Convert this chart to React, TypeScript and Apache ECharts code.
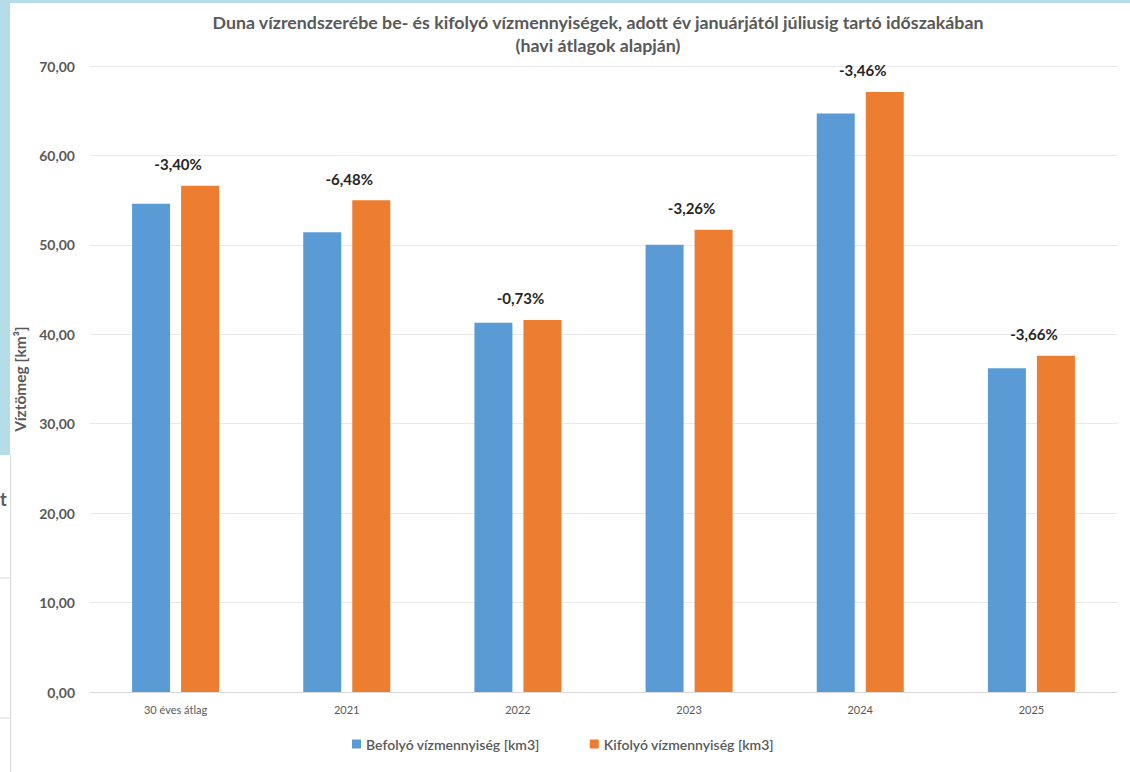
import React, { useEffect, useRef } from "react";
import * as echarts from "echarts";

const categories = ["30 éves átlag", "2021", "2022", "2023", "2024", "2025"];
const inflow = [54.6, 51.4, 41.3, 50.0, 64.7, 36.2];
const outflow = [56.6, 55.0, 41.6, 51.7, 67.1, 37.6];
const pctLabels = ["-3,40%", "-6,48%", "-0,73%", "-3,26%", "-3,46%", "-3,66%"];
const seriesNames = ["Befolyó vízmennyiség [km3]", "Kifolyó vízmennyiség [km3]"];
const titleLines = [
  "Duna vízrendszerébe be- és kifolyó vízmennyiségek, adott év januárjától júliusig tartó időszakában",
  "(havi átlagok alapján)",
];
const yAxisName = "Víztömeg [km³]";

const FONT = "Lato, 'Open Sans', sans-serif";
const GRAY = "#595959";

export default function App() {
  const ref = useRef<HTMLDivElement>(null);
  useEffect(() => {
    if (!ref.current) return;
    const chart = echarts.init(ref.current, undefined, { renderer: "svg" });
    chart.setOption({
      animation: false,
      backgroundColor: "#ffffff",
      textStyle: { fontFamily: FONT },
      title: {
        text: titleLines.join("\n"),
        left: 593,
        textAlign: "center",
        top: 5,
        textStyle: {
          fontFamily: FONT,
          fontSize: 17.8,
          fontWeight: "bold",
          color: GRAY,
          lineHeight: 23,
        },
      },
      graphic: [
        { type: "rect", shape: { x: 0, y: 0, width: 10, height: 455 }, style: { fill: "#b5dde8" }, silent: true },
        { type: "rect", shape: { x: 0, y: 0, width: 1130, height: 3 }, style: { fill: "#b5dde8" }, silent: true },
        { type: "line", shape: { x1: 10.5, y1: 455, x2: 10.5, y2: 772 }, style: { stroke: "#d9d9d9", lineWidth: 1 }, silent: true },
        { type: "line", shape: { x1: 0, y1: 578, x2: 10, y2: 578 }, style: { stroke: "#d9d9d9", lineWidth: 1 }, silent: true },
        { type: "line", shape: { x1: 0, y1: 718, x2: 10, y2: 718 }, style: { stroke: "#d9d9d9", lineWidth: 1 }, silent: true },
        {
          type: "text",
          x: 0,
          y: 490,
          style: { text: "t", fontFamily: FONT, fontSize: 18, fontWeight: "bold", fill: GRAY },
          silent: true,
        },
      ],
      legend: {
        bottom: 16,
        left: 347,
        itemWidth: 9,
        itemHeight: 9,
        itemGap: 50,
        icon: "rect",
        textStyle: { fontFamily: FONT, fontSize: 14, color: GRAY, fontWeight: 600 },
        data: seriesNames,
      },
      grid: { left: 90, right: 13, top: 66, bottom: 80, containLabel: false },
      xAxis: {
        type: "category",
        data: categories,
        axisLine: { lineStyle: { color: "#d9d9d9" } },
        axisTick: { show: false },
        axisLabel: { color: GRAY, fontSize: 11, fontFamily: FONT, margin: 12 },
      },
      yAxis: {
        type: "value",
        min: 0,
        max: 70,
        interval: 10,
        name: yAxisName,
        nameLocation: "middle",
        nameGap: 61,
        nameTextStyle: { color: GRAY, fontSize: 15.5, fontWeight: "bold", fontFamily: FONT },
        axisLine: { show: false },
        axisTick: { show: false },
        splitLine: { lineStyle: { color: "#e9e9e9" } },
        axisLabel: {
          color: GRAY,
          fontSize: 14,
          fontWeight: "bold",
          fontFamily: FONT,
          margin: 15,
          formatter: (v: number) => v.toFixed(2).replace(".", ","),
        },
      },
      series: [
        {
          name: seriesNames[0],
          type: "bar",
          data: inflow,
          barWidth: 38,
          barGap: "29%",
          itemStyle: { color: "#5B9BD5" },
        },
        {
          name: seriesNames[1],
          type: "bar",
          data: outflow,
          barWidth: 38,
          itemStyle: { color: "#ED7D31" },
          label: {
            show: true,
            position: "top",
            distance: 14,
            offset: [-22, 0],
            color: "#262626",
            fontSize: 15,
            fontWeight: "bold",
            fontFamily: FONT,
            formatter: (p: any) => pctLabels[p.dataIndex],
          },
        },
      ],
    });
    return () => chart.dispose();
  }, []);
  return <div ref={ref} style={{ width: 1130, height: 772, position: "fixed", left: 0, top: 0 }} />;
}
